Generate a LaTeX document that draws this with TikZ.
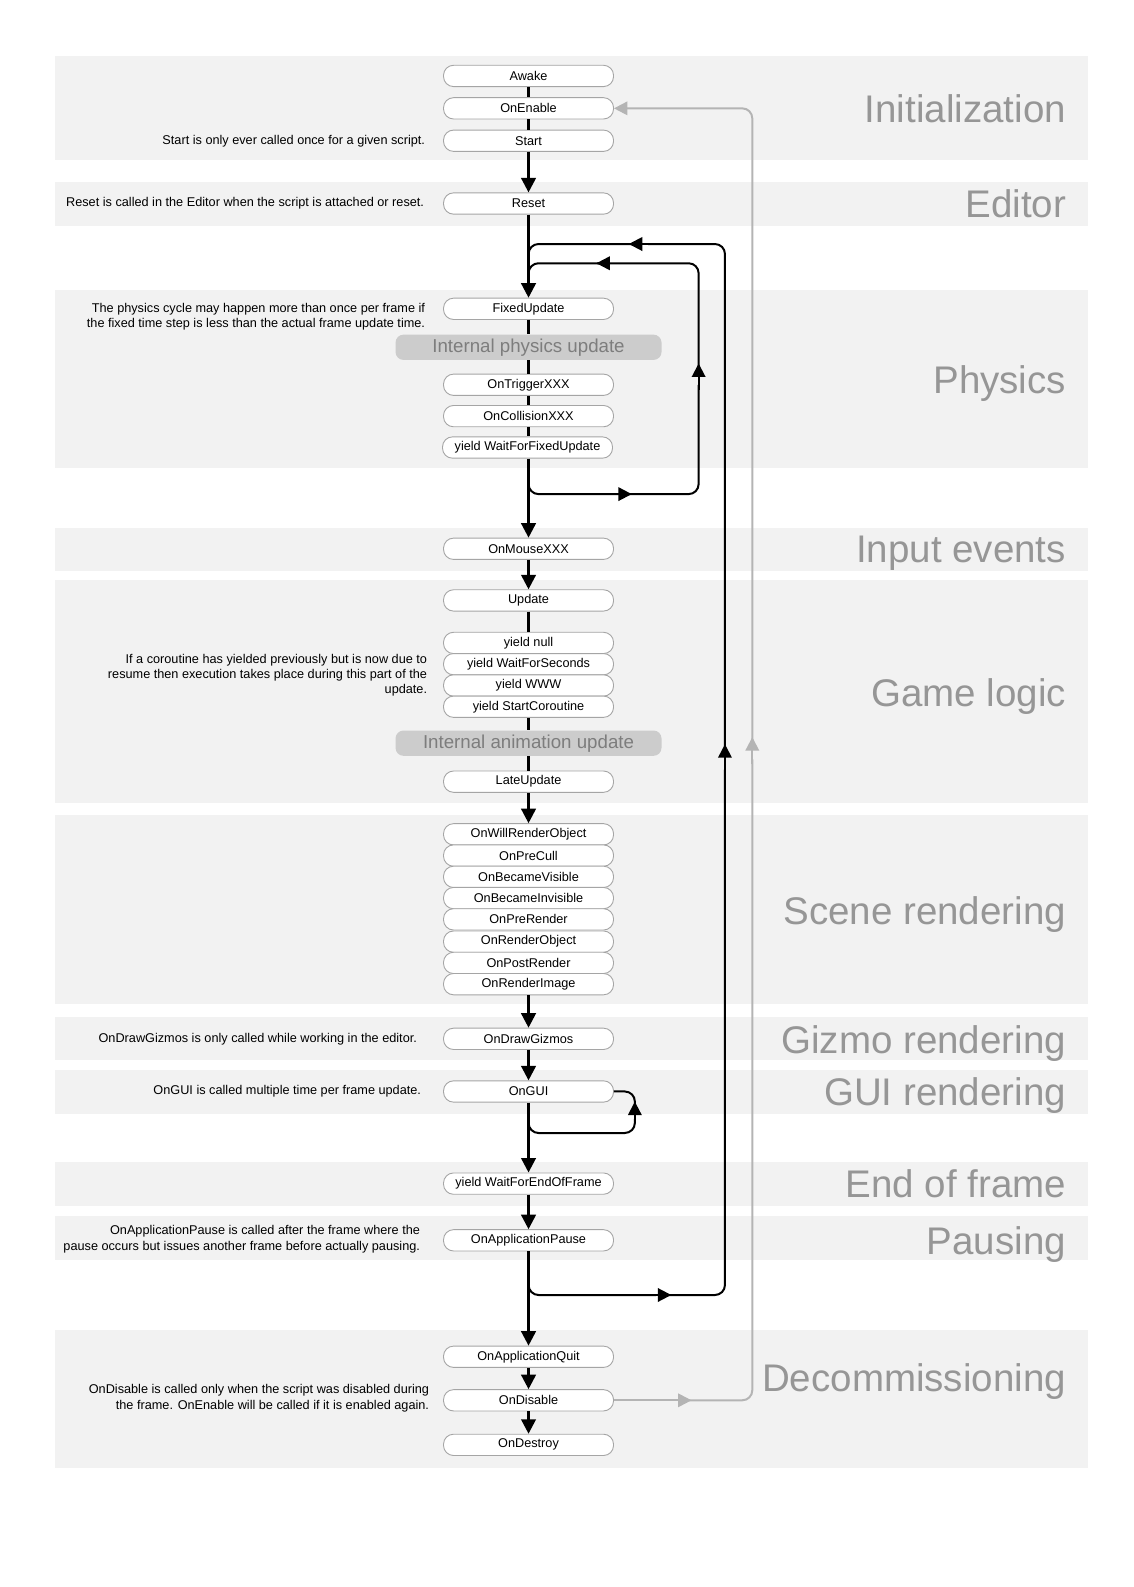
\documentclass[tikz,border=0pt]{standalone}
\usepackage{fontspec}
\setmainfont{Liberation Sans}
\usetikzlibrary{arrows.meta}
\definecolor{band}{RGB}{242,242,242}
\definecolor{boxgray}{RGB}{165,165,165}
\definecolor{labgray}{RGB}{150,150,150}
\definecolor{intfill}{RGB}{204,204,204}
\definecolor{inttext}{RGB}{125,125,125}
\definecolor{loopgray}{RGB}{180,180,180}
\begin{document}
\begin{tikzpicture}[x=1.0125pt,y=-1.0125pt,
  fn/.style={draw=boxgray, line width=0.9pt, fill=white, rounded corners=10pt, minimum width=170pt, minimum height=21.3pt, inner sep=0pt, font=\fontsize{12.7}{14}\selectfont},
  intbox/.style={fill=intfill, rounded corners=8pt, minimum width=266pt, minimum height=25.3pt, inner sep=0pt, text=inttext, font=\fontsize{18.7}{20}\selectfont},
  bandlab/.style={anchor=base east, text=labgray, inner sep=0pt, font=\fontsize{38.5}{40}\selectfont},
  cmt/.style={anchor=east, align=right, inner sep=0pt, font=\fontsize{12.7}{15.2}\selectfont},
  ml/.style={line width=2.6pt, black},
  arr/.style={ml, -{Triangle[width=14.5pt,length=14.5pt]}},
  lp/.style={line width=2pt, black, rounded corners=10pt},
  lparr/.style={lp, -{Triangle[width=13.5pt,length=13.5pt]}},
  gl/.style={line width=2pt, loopgray, rounded corners=10pt},
  glarr/.style={gl, -{Triangle[width=13.5pt,length=13.5pt]}},
]
\useasboundingbox (0,0) rectangle (1120,1567.41);
% bands
\foreach \a/\b in {55/158,180/223,286/462,521/564,573/793,805/992,1004/1047,1057/1100,1148/1191,1201/1244,1314/1450}
  \fill[band] (54,\a) rectangle (1075,\b);
% band labels
\node[bandlab] (lInit) at (1053,121) {Initialization};
\node[bandlab] (lEd) at (1053,215) {Editor};
\node[bandlab] (lPhys) at (1053,389) {Physics};
\node[bandlab] (lInp) at (1053,556) {Input events};
\node[bandlab] (lGame) at (1053,698) {Game logic};
\node[bandlab] (lScene) at (1053,913) {Scene rendering};
\node[bandlab] (lGiz) at (1053,1040) {Gizmo rendering};
\node[bandlab] (lGui) at (1053,1092) {GUI rendering};
\node[bandlab] (lEof) at (1053,1183) {End of frame};
\node[bandlab] (lPause) at (1053,1239) {Pausing};
\node[bandlab] (lDec) at (1053,1374) {Decommissioning};
% comments
\node[cmt] (c1) at (420,139) {Start is only ever called once for a given script.};
\node[cmt] (c2) at (419,201) {Reset is called in the Editor when the script is attached or reset.};
\node[cmt] (c3) at (420,313) {The physics cycle may happen more than once per frame if\\the fixed time step is less than the actual frame update time.};
\node[cmt] (c4) at (422,667) {If a coroutine has yielded previously but is now due to\\resume then execution takes place during this part of the\\update.};
\node[cmt] (c5) at (412,1026) {OnDrawGizmos is only called while working in the editor.};
\node[cmt] (c6) at (416,1078) {OnGUI is called multiple time per frame update.};
\node[cmt] (c7) at (415,1224) {OnApplicationPause is called after the frame where the\\pause occurs but issues another frame before actually pausing.};
\node[cmt] (c8) at (424,1381) {OnDisable is called only when the script was disabled during\\the frame. OnEnable will be called if it is enabled again.};
% function boxes
\node[fn] (awake) at (522,75) {Awake};
\node[fn] (onenable) at (522,107) {OnEnable};
\node[fn] (start) at (522,139) {Start};
\node[fn] (reset) at (522,201) {Reset};
\node[fn] (fixed) at (522,305) {FixedUpdate};
\node[intbox] (intphys) at (522,343) {Internal physics update};
\node[fn] (trigger) at (522,380) {OnTriggerXXX};
\node[fn] (collision) at (522,411) {OnCollisionXXX};
\node[fn] (waitfixed) at (521,442) {yield WaitForFixedUpdate};
\node[fn] (mouse) at (522,542) {OnMouseXXX};
\node[fn] (update) at (522,593) {Update};
\node[fn] (ynull) at (522,635) {yield null};
\node[fn] (ywfs) at (522,656) {yield WaitForSeconds};
\node[fn] (ywww) at (522,677) {yield WWW};
\node[fn] (ysc) at (522,698) {yield StartCoroutine};
\node[intbox] (intanim) at (522,734) {Internal animation update};
\node[fn] (late) at (522,772) {LateUpdate};
\node[fn] (wro) at (522,824) {OnWillRenderObject};
\node[fn] (precull) at (522,845) {OnPreCull};
\node[fn] (visible) at (522,866) {OnBecameVisible};
\node[fn] (invisible) at (522,887) {OnBecameInvisible};
\node[fn] (prerender) at (522,908) {OnPreRender};
\node[fn] (renderobj) at (522,930) {OnRenderObject};
\node[fn] (postrender) at (522,951) {OnPostRender};
\node[fn] (renderimg) at (522,972) {OnRenderImage};
\node[fn] (gizmos) at (522,1026) {OnDrawGizmos};
\node[fn] (gui) at (522,1078) {OnGUI};
\node[fn] (eof) at (522,1169) {yield WaitForEndOfFrame};
\node[fn] (pause) at (522,1225) {OnApplicationPause};
\node[fn] (quit) at (522,1340) {OnApplicationQuit};
\node[fn] (disable) at (522,1383) {OnDisable};
\node[fn] (destroy) at (522,1427) {OnDestroy};
% main flow
\draw[ml] (awake) -- (onenable);
\draw[ml] (onenable) -- (start);
\draw[arr] (start) -- (reset);
\draw[arr] (reset) -- (fixed);
\draw[ml] (fixed) -- (intphys);
\draw[ml] (intphys) -- (trigger);
\draw[ml] (trigger) -- (collision);
\draw[ml] (collision.south) -- (collision.south |- waitfixed.north);
\draw[arr] (collision.south |- waitfixed.south) -- (mouse);
\draw[arr] (mouse) -- (update);
\draw[ml] (update) -- (ynull);
\draw[ml] (ysc) -- (intanim);
\draw[ml] (intanim) -- (late);
\draw[arr] (late) -- (wro);
\draw[arr] (renderimg) -- (gizmos);
\draw[arr] (gizmos) -- (gui);
\draw[arr] (gui) -- (eof);
\draw[arr] (eof) -- (pause);
\draw[arr] (pause) -- (quit);
\draw[arr] (quit) -- (disable);
\draw[arr] (disable) -- (destroy);
% loop coordinates
\coordinate (p1) at (522,465);
\coordinate (p2) at (522,488);
\coordinate (p3) at (690,488);
\coordinate (p4) at (690,260);
\coordinate (p5) at (522,260);
\coordinate (p6) at (522,280);
\coordinate (q1) at (522,1258);
\coordinate (q2) at (522,1279);
\coordinate (q3) at (716,1279);
\coordinate (q4) at (716,241);
\coordinate (q5) at (522,241);
\coordinate (q6) at (522,262);
\coordinate (g1) at (522,1100);
\coordinate (g2) at (522,1119);
\coordinate (g3) at (627,1119);
\coordinate (g4) at (627,1078);
\coordinate (r1) at (743,1383);
\coordinate (r2) at (743,107);
% physics loop
\draw[lparr] (p1) -- (p2) -- (624,488);
\draw[lp] (615,488) -- (p3) -- (690,380);
\draw[lparr] (690,385) -- (690,359);
\draw[lp] (690,363) -- (p4) -- (590,260);
\draw[lparr] (600,260) -- (589,260);
\draw[lp] (593,260) -- (p5) -- (p6);
% frame loop
\draw[lp] (q1) -- (q2) -- (648,1279);
\draw[lparr] (640,1279) -- (663,1279);
\draw[lp] (660,1279) -- (q3) -- (716,760);
\draw[lparr] (716,765) -- (716,735);
\draw[lp] (716,740) -- (q4) -- (640,241);
\draw[lparr] (640,241) -- (621,241);
\draw[lp] (625,241) -- (q5) -- (q6);
% GUI loop
\draw[lp] (g1) -- (g2) -- (g3) -- (627,1105);
\draw[lparr] (627,1108) -- (627,1088);
\draw[lp] (627,1092) -- (g4) -- (gui.east);
% gray loop
\draw[gl] (disable.east) -- (670,1383);
\draw[glarr] (665,1383) -- (683,1383);
\draw[gl] (680,1383) -- (r1) -- (743,750);
\draw[glarr] (743,755) -- (743,728);
\draw[glarr] (743,733) -- (r2) -- (onenable.east);
\end{tikzpicture}
\end{document}
